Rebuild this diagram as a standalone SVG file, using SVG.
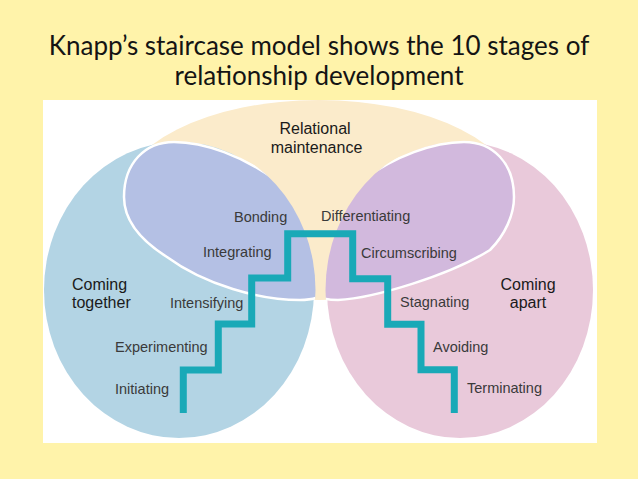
<svg xmlns="http://www.w3.org/2000/svg" width="638" height="479" viewBox="0 0 638 479">
<style>
.title{font-family:Lato,"Open Sans","Liberation Sans",sans-serif;font-size:26px;fill:#141414;text-anchor:middle}
.lbl{font-family:"Liberation Sans",Arial,sans-serif;font-size:14.5px;fill:#3a3a3a}
.head{font-family:"Liberation Sans",Arial,sans-serif;font-size:16px;fill:#1a1a1a}
.inner{stroke:#fff;stroke-width:2.5}
.stairs{fill:none;stroke:#19a9b7;stroke-width:7;stroke-linejoin:miter;stroke-linecap:butt}
</style>
<defs>
<clipPath id="box"><rect x="43" y="100" width="554" height="343"/></clipPath>
<clipPath id="clipL"><ellipse cx="179" cy="290" rx="136.5" ry="150"/></clipPath>
<clipPath id="clipR"><ellipse cx="460" cy="290" rx="134.5" ry="150"/></clipPath>
</defs>
<rect x="0" y="0" width="638" height="479" fill="#fff3aa"/>
<text class="title" x="319" y="55">Knapp’s staircase model shows the 10 stages of</text>
<text class="title" x="319" y="85">relationship development</text>
<rect x="43" y="100" width="554" height="343" fill="#ffffff"/>
<g clip-path="url(#box)">
<g id="relational-maintenance">
<ellipse cx="319" cy="200" rx="200" ry="100" fill="#fbebcb"/>
</g>
<g id="coming-together">
<ellipse cx="179" cy="290" rx="135" ry="148" fill="#b3d4e4"/>
</g>
<g id="coming-apart">
<ellipse cx="460" cy="290" rx="133" ry="148" fill="#e9c9da"/>
</g>
<g id="bonding-zone" clip-path="url(#clipL)">
<path class="inner" fill="#b4c0e4" d="M124,197 C124,163 145,142 174,142 C235,142 330,200 330,270 C330,295 320,300 300,300 C260,300 205,285 167,257 C140,240 124,220 124,197 Z"/>
</g>
<g id="differentiating-zone" clip-path="url(#clipR)">
<path class="inner" fill="#d2b9dd" d="M514,197 C514,163 493,142 464,142 C403,142 308,200 308,270 C308,295 318,300 338,300 C375,298 450,275 490,250 C505,235 514,215 514,197 Z"/>
</g>
</g>
<g id="connectors">
<path class="stairs" d="M183.3,413 V370 H218.3 V324 H251.7 V278 H287.7 V233.7 H352.7 V278.7 H387.7 V324.3 H421 V369.7 H454.3 V413"/>
</g>
<g id="labels">
<text class="head" x="315" y="134" text-anchor="middle">Relational</text>
<text class="head" x="316.5" y="153" text-anchor="middle">maintenance</text>
<text class="head" x="72" y="290">Coming</text>
<text class="head" x="72" y="308">together</text>
<text class="head" x="528" y="290" text-anchor="middle">Coming</text>
<text class="head" x="528" y="308" text-anchor="middle">apart</text>
<text class="lbl" x="234" y="222">Bonding</text>
<text class="lbl" x="321" y="221">Differentiating</text>
<text class="lbl" x="203" y="257">Integrating</text>
<text class="lbl" x="361" y="257.7">Circumscribing</text>
<text class="lbl" x="170" y="308">Intensifying</text>
<text class="lbl" x="400" y="307">Stagnating</text>
<text class="lbl" x="115" y="352">Experimenting</text>
<text class="lbl" x="433" y="352">Avoiding</text>
<text class="lbl" x="115" y="394">Initiating</text>
<text class="lbl" x="467" y="393">Terminating</text>
</g>
</svg>
